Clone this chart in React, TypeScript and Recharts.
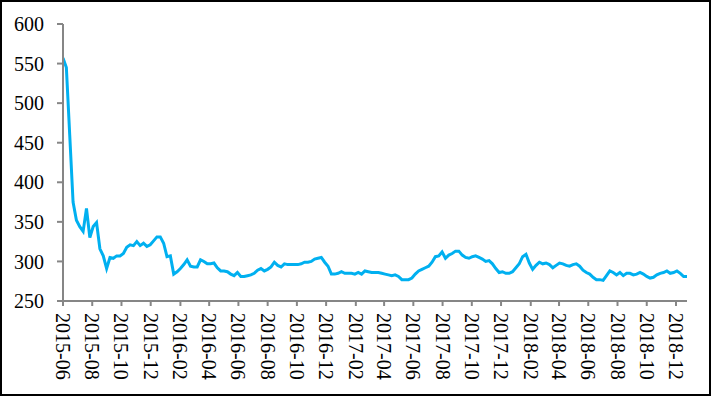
import { LineChart, Line, XAxis, YAxis } from 'recharts';

// weekly series, first week 2015-06-05
const startDate = Date.UTC(2015, 5, 5);
const WEEK = 7 * 24 * 3600 * 1000;

const prices: number[] = [
  557, 545, 460, 375, 352, 344, 338, 367, 330, 344,
  349, 316, 307, 291, 305, 304, 307, 307, 310, 318,
  321, 320, 325, 320, 323, 319, 321, 326, 331, 331,
  323, 306, 307, 284, 287, 291, 296, 302, 294, 293,
  293, 302, 300, 297, 297, 298, 292, 288, 288, 287,
  284, 282, 286, 281, 281, 282, 283, 285, 289, 291,
  288, 290, 293, 299, 295, 293, 297, 296, 296, 296,
  296, 297, 299, 299, 300, 303, 304, 305, 299, 294,
  284, 284, 285, 287, 285, 285, 285, 284, 286, 284,
  288, 287, 286, 286, 286, 285, 284, 283, 282, 283,
  281, 277, 277, 277, 279, 284, 288, 290, 292, 294,
  299, 306, 307, 312, 304, 308, 310, 313, 313, 308,
  305, 304, 306, 307, 305, 303, 300, 301, 297, 291,
  286, 287, 285, 285, 287, 292, 297, 306, 309, 298,
  290, 295, 299, 297, 298, 296, 292, 295, 298, 297,
  295, 294, 296, 297, 294, 289, 286, 284, 280, 277,
  277, 276, 282, 288, 286, 283, 286, 282, 285, 285,
  283, 284, 286, 284, 281, 279, 280, 283, 285, 286,
  288, 285, 286, 288, 285, 281, 281,
];

// tick labels every two months
const xTicks: number[] = Array.from({ length: 22 }, (_, k) => Date.UTC(2015, 5 + 2 * k, 5));
const yTicks = [250, 300, 350, 400, 450, 500, 550, 600];

const data = prices.map((v, i) => ({ t: startDate + i * WEEK, v }));

const FONT = '"Liberation Serif", "Times New Roman", serif';
const AXIS = '#868686';

const fmt = (t: number) => {
  const d = new Date(t);
  return `${d.getUTCFullYear()}-${String(d.getUTCMonth() + 1).padStart(2, '0')}`;
};

const XTick = (props: any) => {
  const { x, y, payload } = props;
  return (
    <text
      x={x}
      y={y}
      transform={`rotate(90 ${x} ${y})`}
      textAnchor="start"
      dominantBaseline="central"
      fontFamily={FONT}
      fontSize={20}
      fill="#000"
    >
      {fmt(payload.value)}
    </text>
  );
};

export default function App() {
  return (
    <div
      style={{
        position: 'fixed',
        left: 0,
        top: 0,
        width: 711,
        height: 396,
        boxSizing: 'border-box',
        border: '2px solid #000',
        background: '#fff',
      }}
    >
      <LineChart
        width={707}
        height={392}
        data={data}
        margin={{ top: 22, right: 20, bottom: 0, left: 0 }}
        style={{ position: 'absolute', left: -2, top: 0 }}
      >
        <XAxis
          dataKey="t"
          type="number"
          domain={[startDate, startDate + 186 * WEEK]}
          ticks={xTicks}
          interval={0}
          tick={<XTick />}
          tickSize={5}
          tickMargin={7}
          height={93}
          axisLine={{ stroke: AXIS, strokeWidth: 2 }}
          tickLine={{ stroke: AXIS, strokeWidth: 2 }}
          allowDataOverflow
        />
        <YAxis
          domain={[250, 600]}
          ticks={yTicks}
          interval={0}
          width={63}
          tickSize={6}
          tickMargin={13}
          axisLine={{ stroke: AXIS, strokeWidth: 2 }}
          tickLine={{ stroke: AXIS, strokeWidth: 2 }}
          tick={{ fill: '#000', fontFamily: FONT, fontSize: 20 }}
        />
        <Line
          type="linear"
          dataKey="v"
          stroke="#00B0F0"
          strokeWidth={3}
          dot={false}
          isAnimationActive={false}
        />
      </LineChart>
    </div>
  );
}
